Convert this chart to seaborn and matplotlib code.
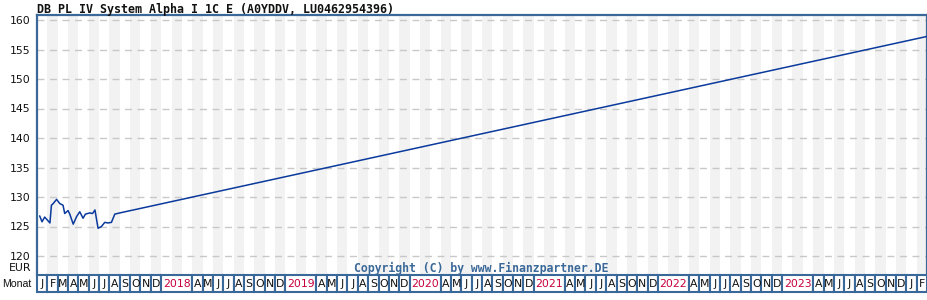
import matplotlib
matplotlib.use("Agg")
import matplotlib.pyplot as plt
from matplotlib.patches import Rectangle
import seaborn as sns
import pandas as pd

# ---- data ----
dates = ["2017-01-09", "2017-01-16", "2017-01-24", "2017-02-08", "2017-02-12",
         "2017-02-17", "2017-02-26", "2017-03-07", "2017-03-17", "2017-03-22",
         "2017-04-01", "2017-04-06", "2017-04-16", "2017-04-26", "2017-05-05",
         "2017-05-15", "2017-05-22", "2017-06-04", "2017-06-12", "2017-06-19",
         "2017-06-28", "2017-07-08", "2017-07-18", "2017-07-28", "2017-08-07",
         "2017-08-17", "2017-09-01", "2024-02-29"]
values = [126.8, 125.8, 126.6, 125.6, 128.6,
          128.9, 129.6, 128.9, 128.6, 127.2,
          127.7, 127.1, 125.4, 126.7, 127.5,
          126.4, 127.1, 127.3, 127.2, 127.8,
          124.7, 125.0, 125.7, 125.6, 125.7,
          127.1, 127.3, 157.2]
y_ticks = [120, 125, 130, 135, 140, 145, 150, 155, 160]
month_letters = ["J", "F", "M", "A", "M", "J", "J", "A", "S", "O", "N", "D"]
start_year = 2017
n_months = 86           # Jan 2017 .. Feb 2024
labelled_years = [2018, 2019, 2020, 2021, 2022, 2023]
title = "DB PL IV System Alpha I 1C E (A0YDDV, LU0462954396)"

# ---- styling ----
BLUE_FRAME = "#3a6898"
LINE = "#0a3a9c"
STRIPE = "#f2f2f2"
RED = "#c8003c"

d = pd.to_datetime(pd.Series(dates))
pos = (d.dt.year - start_year) * 12 + (d.dt.month - 1) + (d.dt.day - 1) / d.dt.days_in_month
df = pd.DataFrame({"pos": pos, "value": values})

sns.set_theme(style="white")
plt.rcParams["font.family"] = ["DejaVu Sans"]

W, H = 928, 300
fig = plt.figure(figsize=(W / 100, H / 100), dpi=100)
fig.patch.set_facecolor("white")

# main axes: x 37..927, y 15..275 (pixels from top)
ax = fig.add_axes([37 / W, 1 - 275 / H, 890 / W, 260 / H])
px_per_unit = (256 - 20) / 40.0
ymax = 160 + (20 - 15) / px_per_unit
ymin = 120 - (275 - 256) / px_per_unit
ax.set_xlim(0, n_months)
ax.set_ylim(ymin, ymax)

for i in range(n_months):
    if i % 2 == 1:
        ax.axvspan(i, i + 1, color=STRIPE, lw=0, zorder=0.1)

ax.set_axisbelow(True)
ax.grid(axis="y", color="#c8c8c8", lw=1.0, linestyle=(0, (5, 4)))
ax.grid(axis="x", visible=False)

sns.lineplot(data=df, x="pos", y="value", ax=ax, color=LINE, lw=1.1, zorder=3)

ax.set_yticks(y_ticks)
ax.set_yticklabels([str(t) for t in y_ticks])
ax.set_xticks([])
ax.set_xlabel("")
ax.set_ylabel("")
ax.tick_params(axis="y", length=0, pad=5, labelsize=7.8, labelcolor="#111111")
for s in ["left", "right", "top"]:
    ax.spines[s].set_color(BLUE_FRAME)
    ax.spines[s].set_linewidth(1.6)
ax.spines["bottom"].set_visible(False)

# text elements
fig.text(37 / W, 1 - 9 / H, title, ha="left", va="center",
         family="DejaVu Sans Mono", weight="bold", fontsize=8.35, color="#111111")
fig.text(31 / W, 1 - 268 / H, "EUR", ha="right", va="center", fontsize=7.8, color="#111111")
fig.text(31 / W, 1 - 284 / H, "Monat", ha="right", va="center",
         family="Liberation Sans", fontsize=7.6, color="#111111")
fig.text(481 / W, 1 - 268 / H, "Copyright (C) by www.Finanzpartner.DE", ha="center", va="center",
         family="DejaVu Sans Mono", weight="bold", fontsize=8.3, color=BLUE_FRAME)

# month row: y 275..292
axm = fig.add_axes([37 / W, 1 - 292 / H, 890 / W, 17 / H])
axm.set_xlim(0, n_months)
axm.set_ylim(0, 1)
axm.axis("off")
i = 0
while i < n_months:
    year = start_year + i // 12
    m = i % 12
    if m == 0 and year in labelled_years and i + 3 <= n_months:
        span, label, col = 3, str(year), RED
    else:
        span, label, col = 1, month_letters[m], "#111111"
    axm.add_patch(Rectangle((i, 0), span, 1, facecolor="white", edgecolor=BLUE_FRAME,
                            lw=1.5, clip_on=False))
    axm.text(i + span / 2, 0.47, label, ha="center", va="center", fontsize=7.8, color=col)
    i += span

fig.savefig("out.png", dpi=100)
